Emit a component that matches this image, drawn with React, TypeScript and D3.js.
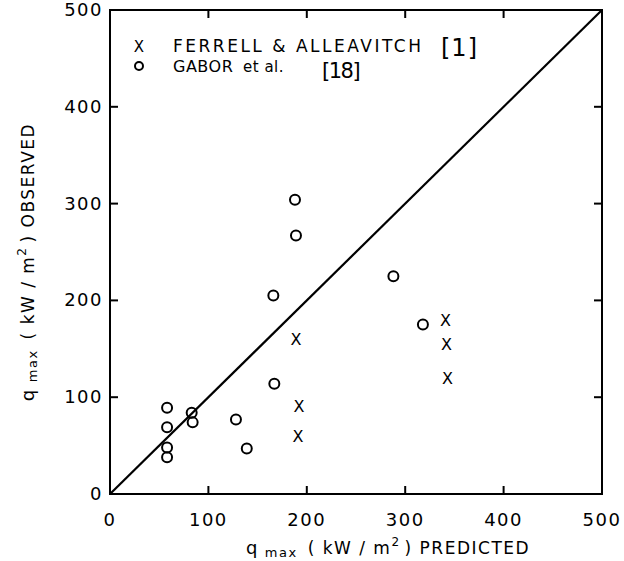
// App
import { useEffect, useRef } from 'react';
import * as d3 from 'd3';

// Ferrell & Alleavitch [1]
const ferrellPredicted = [189, 192, 191, 341, 342, 343];
const ferrellObserved = [160, 91, 60, 180, 155, 120];

// Gabor et al. [18]
const gaborPredicted = [58, 58, 58, 58, 83, 84, 128, 139, 167, 166, 188, 189, 288, 318];
const gaborObserved = [89, 69, 48, 38, 84, 74, 77, 47, 114, 205, 304, 267, 225, 175];

const tickValues = [0, 100, 200, 300, 400, 500];
const innerTicks = [100, 200, 300, 400];

const W = 624;
const H = 561;
const FONT = "'DejaVu Sans', sans-serif";

function App() {
	const ref = useRef<SVGSVGElement>(null);

	useEffect(() => {
		const svg = d3.select(ref.current);
		svg.selectAll('*').remove();

		const x = d3.scaleLinear().domain([0, 500]).range([110, 602]);
		const y = d3.scaleLinear().domain([0, 500]).range([494, 10]);

		const g = svg.append('g');

		// frame
		g.append('rect')
			.attr('x', x(0))
			.attr('y', y(500))
			.attr('width', x(500) - x(0))
			.attr('height', y(0) - y(500))
			.attr('fill', 'none')
			.attr('stroke', '#000')
			.attr('stroke-width', 2);

		// inward ticks on all four sides
		const tl = 8;
		innerTicks.forEach((t) => {
			g.append('line').attr('x1', x(t)).attr('x2', x(t)).attr('y1', y(0)).attr('y2', y(0) - tl);
			g.append('line').attr('x1', x(t)).attr('x2', x(t)).attr('y1', y(500)).attr('y2', y(500) + tl);
			g.append('line').attr('x1', x(0)).attr('x2', x(0) + tl).attr('y1', y(t)).attr('y2', y(t));
			g.append('line').attr('x1', x(500)).attr('x2', x(500) - tl).attr('y1', y(t)).attr('y2', y(t));
		});
		g.selectAll('line').attr('stroke', '#000').attr('stroke-width', 2);

		// tick labels
		g.selectAll('.xt')
			.data(tickValues)
			.enter()
			.append('text')
			.attr('x', (d) => x(d))
			.attr('y', 526)
			.attr('text-anchor', 'middle')
			.attr('font-family', FONT)
			.attr('font-size', 18)
			.attr('letter-spacing', 1.5)
			.text((d) => d);

		g.selectAll('.yt')
			.data(tickValues)
			.enter()
			.append('text')
			.attr('x', 103)
			.attr('y', (d) => y(d) + 6)
			.attr('text-anchor', 'end')
			.attr('font-family', FONT)
			.attr('font-size', 18)
			.attr('letter-spacing', 1.5)
			.text((d) => d);

		// diagonal
		g.append('line')
			.attr('x1', x(0))
			.attr('y1', y(0))
			.attr('x2', x(500))
			.attr('y2', y(500))
			.attr('stroke', '#000')
			.attr('stroke-width', 2.2);

		// circles
		g.selectAll('.gabor')
			.data(d3.zip(gaborPredicted, gaborObserved))
			.enter()
			.append('circle')
			.attr('cx', (d) => x(d[0]))
			.attr('cy', (d) => y(d[1]))
			.attr('r', 5)
			.attr('fill', 'none')
			.attr('stroke', '#000')
			.attr('stroke-width', 2);

		// crosses drawn as letter X
		g.selectAll('.ferrell')
			.data(d3.zip(ferrellPredicted, ferrellObserved))
			.enter()
			.append('text')
			.attr('x', (d) => x(d[0]))
			.attr('y', (d) => y(d[1]) + 6)
			.attr('text-anchor', 'middle')
			.attr('font-family', FONT)
			.attr('font-size', 16)
			.text('X');

		// legend
		const lg = g.append('g').attr('font-family', FONT).attr('fill', '#000');
		lg.append('text').attr('x', 139).attr('y', 52).attr('text-anchor', 'middle').attr('font-size', 15).text('X');
		lg.append('circle').attr('cx', 139).attr('cy', 66).attr('r', 4).attr('fill', 'none').attr('stroke', '#000').attr('stroke-width', 2);
		lg.append('text').attr('x', 173).attr('y', 52).attr('font-size', 17).attr('letter-spacing', 2.5).text('FERRELL & ALLEAVITCH');
		lg.append('text').attr('x', 441).attr('y', 56).attr('font-size', 24).attr('letter-spacing', 1).text('[1]');
		lg.append('text').attr('x', 173).attr('y', 72).attr('font-size', 16).attr('letter-spacing', 0.5).text('GABOR');
		lg.append('text').attr('x', 243).attr('y', 72).attr('font-size', 15).attr('letter-spacing', 0.5).text('et al.');
		lg.append('text').attr('x', 322).attr('y', 78).attr('font-size', 21).attr('letter-spacing', -1.5).text('[18]');

		// axis titles
		const title = (parent: d3.Selection<SVGTextElement, unknown, null, undefined>, word: string) => {
			parent.append('tspan').attr('font-size', 18).text('q');
			parent.append('tspan').attr('font-size', 13).attr('dx', 6).attr('dy', 3).text('max');
			parent.append('tspan').attr('font-size', 17).attr('dx', 10).attr('dy', -3).text('( kW / m');
			parent.append('tspan').attr('font-size', 12).attr('dy', -8).text('2');
			parent.append('tspan').attr('font-size', 17).attr('dx', 4).attr('dy', 8).text(') ' + word);
		};

		const xt = g
			.append('text')
			.attr('x', 388)
			.attr('y', 554)
			.attr('text-anchor', 'middle')
			.attr('font-family', FONT)
			.attr('letter-spacing', 1.5);
		title(xt as any, 'PREDICTED');

		const yt = g
			.append('text')
			.attr('transform', 'translate(34,262) rotate(-90)')
			.attr('text-anchor', 'middle')
			.attr('font-family', FONT)
			.attr('letter-spacing', 1.5);
		title(yt as any, 'OBSERVED');
	}, []);

	return (
		<svg
			ref={ref}
			width={W}
			height={H}
			style={{ position: 'absolute', left: 0, top: 0, background: '#fff' }}
		/>
	);
}

export default App;
